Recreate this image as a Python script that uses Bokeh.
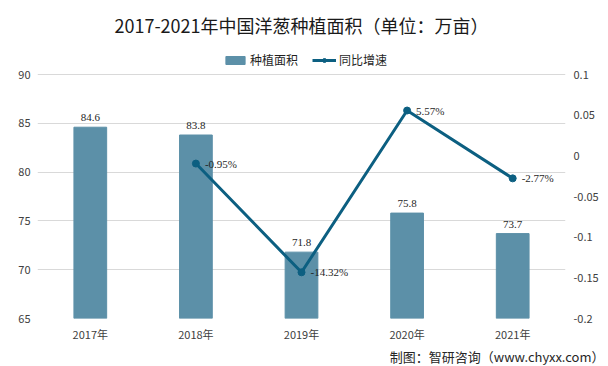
from bokeh.plotting import figure
from bokeh.models import (ColumnDataSource, Range1d, LinearAxis, FixedTicker, LabelSet,
                          Title, Legend, LegendItem, FactorRange)
from bokeh.embed import file_html
from bokeh.resources import INLINE

years = ["2017年", "2018年", "2019年", "2020年", "2021年"]
area = [84.6, 83.8, 71.8, 75.8, 73.7]
rate_years = ["2018年", "2019年", "2020年", "2021年"]
rate = [-0.0095, -0.1432, 0.0557, -0.0277]
left_ticks = [65, 70, 75, 80, 85, 90]
right_ticks = [-0.2, -0.15, -0.1, -0.05, 0, 0.05, 0.1]
right_tick_labels = ["-0.2", "-0.15", "-0.1", "-0.05", "0", "0.05", "0.1"]

FONT = "Noto Sans CJK SC"
BAR = "#5c90a8"
LINE = "#0c5f81"

# frame layout (pixels)
W, H = 608, 366
B_LEFT, B_RIGHT, B_TOP, B_BOTTOM = 37, 43, 40, 48
GRID_TOP_PX = 74          # where the top gridline sits
frame_h = H - B_TOP - B_BOTTOM
grid_h = H - B_BOTTOM - GRID_TOP_PX
ext = frame_h / grid_h     # extend ranges so the legend fits above the top gridline
l_lo, l_hi = left_ticks[0], left_ticks[-1]
r_lo, r_hi = right_ticks[0], right_ticks[-1]

bar_src = ColumnDataSource(dict(x=years, y=area, lbl=[f"{v}" for v in area]))
line_src = ColumnDataSource(dict(x=rate_years, y=rate, lbl=[f"{v*100:.2f}%" for v in rate]))

p = figure(width=W, height=H, x_range=FactorRange(*years),
           y_range=Range1d(l_lo, l_lo + (l_hi - l_lo) * ext),
           output_backend="svg", toolbar_location=None, title=None,
           min_border_left=B_LEFT, min_border_right=B_RIGHT,
           min_border_top=B_TOP, min_border_bottom=B_BOTTOM)
p.outline_line_color = None
p.background_fill_color = "white"
p.border_fill_color = "white"
p.xgrid.grid_line_color = None
p.ygrid.grid_line_color = "#d9d9d9"
p.ygrid.ticker = FixedTicker(ticks=left_ticks)

p.extra_y_ranges = {"rate": Range1d(r_lo, r_lo + (r_hi - r_lo) * ext)}

bars = p.vbar(x="x", top="y", bottom=l_lo, width=0.31, source=bar_src, color=BAR)
ln = p.line(x="x", y="y", source=line_src, y_range_name="rate", line_color=LINE, line_width=3)
sc = p.scatter(x="x", y="y", source=line_src, y_range_name="rate", size=7, color=LINE)

# axes
ya = p.yaxis[0]
ya.ticker = FixedTicker(ticks=left_ticks)
xa = p.xaxis[0]
ra = LinearAxis(y_range_name="rate", ticker=FixedTicker(ticks=right_ticks))
ra.major_label_overrides = {t: s for t, s in zip(right_ticks, right_tick_labels)}
p.add_layout(ra, "right")
for ax in (ya, xa, ra):
    ax.axis_line_color = None
    ax.major_tick_line_color = None
    ax.minor_tick_line_color = None
    ax.major_tick_out = 0
    ax.major_tick_in = 0
    ax.major_label_text_font = FONT
    ax.major_label_text_font_size = "11px"
    ax.major_label_text_color = "#404040"
ya.major_label_standoff = 7
ra.major_label_standoff = 8
xa.major_label_standoff = 7

p.add_layout(LabelSet(x="x", y="y", text="lbl", source=bar_src, y_offset=6,
                      text_align="center", text_baseline="bottom",
                      text_font=FONT, text_font_size="11px", text_color="#1f1f1f"))
p.add_layout(LabelSet(x="x", y="y", text="lbl", source=line_src, y_range_name="rate",
                      x_offset=9, text_align="left", text_baseline="middle",
                      text_font=FONT, text_font_size="11px", text_color="#1f1f1f"))

legend = Legend(items=[LegendItem(label="种植面积", renderers=[bars]),
                       LegendItem(label="同比增速", renderers=[ln, sc])],
                location=(186, 250), orientation="horizontal",
                glyph_width=24, glyph_height=10, label_height=12, label_standoff=3,
                spacing=14, padding=0, margin=0, border_line_color=None,
                background_fill_alpha=0, label_text_font=FONT,
                label_text_font_size="12px", label_text_color="#1f1f1f")
p.add_layout(legend, "center")

p.add_layout(Title(text="2017-2021年中国洋葱种植面积（单位：万亩）", align="center",
                   text_font=FONT, text_font_size="18px", text_font_style="normal",
                   text_color="#1a1a1a", standoff=5), "above")

p.add_layout(Title(text="制图：智研咨询（www.chyxx.com）", align="right", offset=-39,
                   text_font=FONT, text_font_size="13px", text_font_style="normal",
                   text_color="#262626", standoff=0, text_line_height=0.9), "below")

open("out.html", "w").write(file_html(p, INLINE))
